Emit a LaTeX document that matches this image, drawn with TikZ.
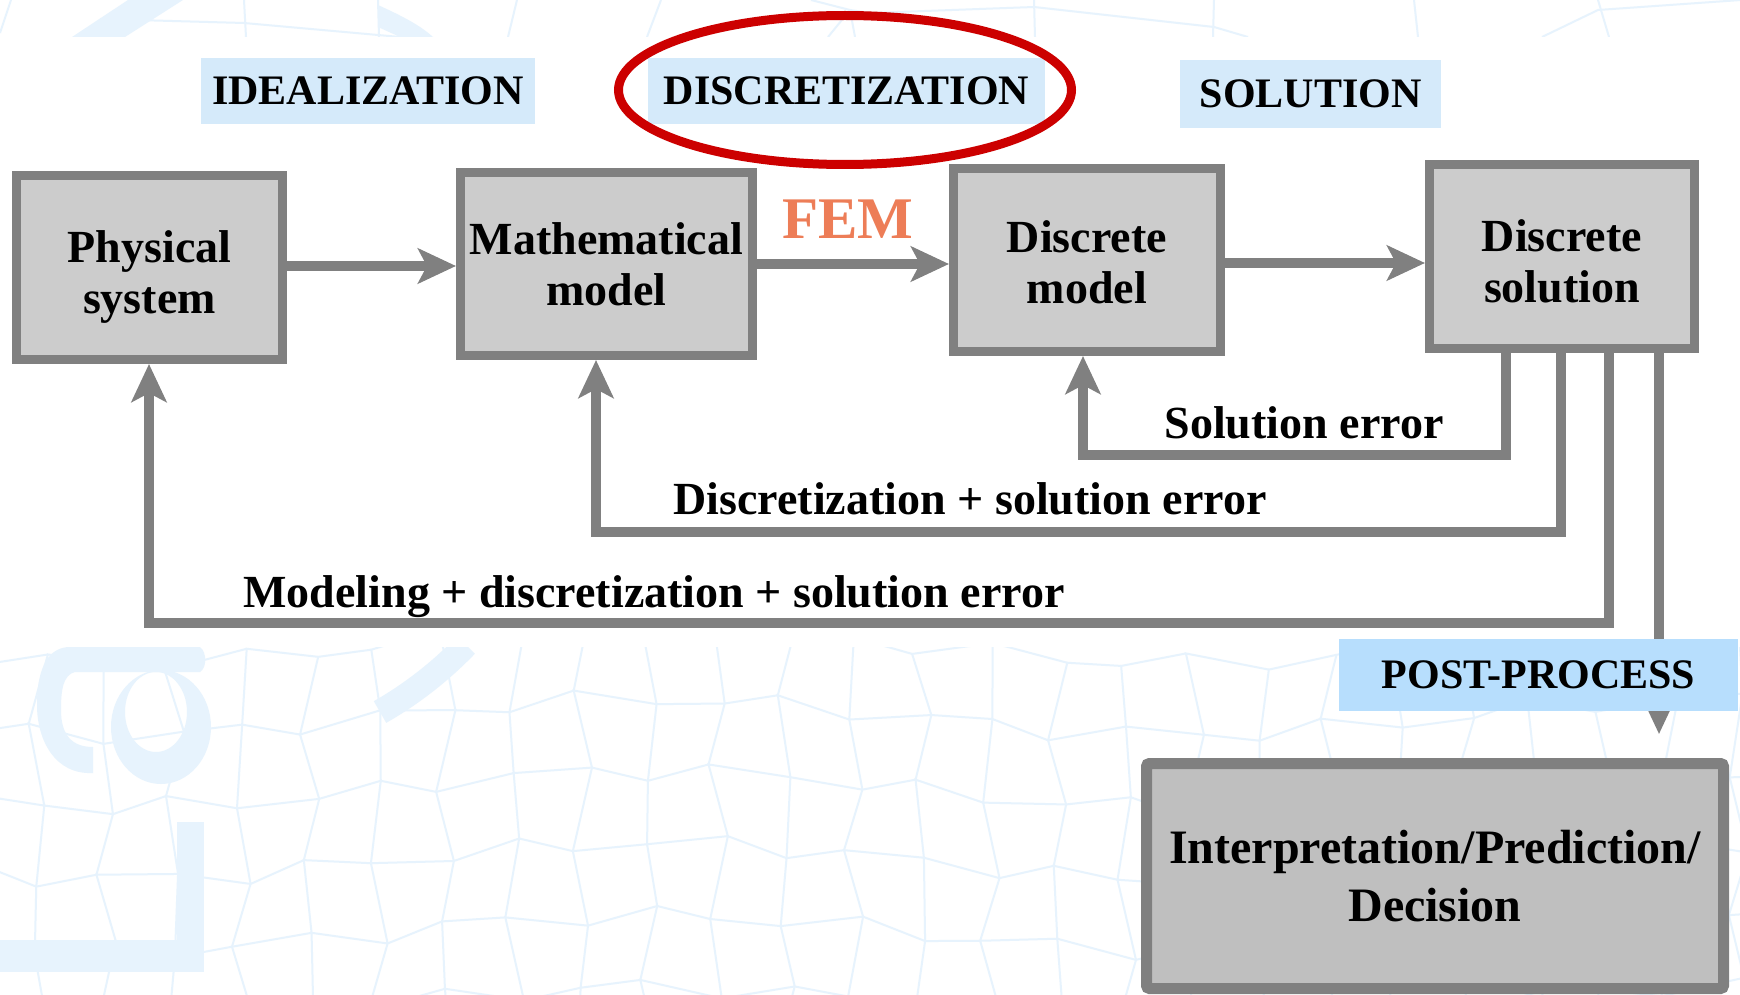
\documentclass[tikz,border=0pt]{standalone}
\usepackage{fontspec}
\setmainfont{Liberation Serif}
\usetikzlibrary{arrows.meta}
\definecolor{edge}{HTML}{808080}
\definecolor{boxfill}{HTML}{CCCCCC}
\definecolor{interpfill}{HTML}{BFBFBF}
\definecolor{tagblue}{RGB}{213,234,250}
\definecolor{postblue}{RGB}{183,222,253}
\definecolor{ringred}{RGB}{204,0,0}
\definecolor{femcol}{RGB}{237,125,87}
\definecolor{meshcol}{RGB}{231,243,253}
\tikzset{
  box/.style={draw=edge, fill=boxfill, line width=9pt, inner sep=0pt, align=center,
    font=\fontsize{46}{51}\selectfont\bfseries, text depth=0pt},
  tag/.style={fill=tagblue, inner sep=0pt, minimum height=66pt,
    font=\fontsize{42}{42}\selectfont\bfseries},
  arr/.style={draw=edge, line width=10pt, -{Stealth[length=38pt,width=35pt,inset=9pt]}},
  lab/.style={font=\fontsize{46}{46}\selectfont\bfseries, inner sep=0pt, anchor=base},
  mesh/.style={draw=meshcol, line width=2pt},
  wm/.style={fill=meshcol}
}
\begin{document}
\begin{tikzpicture}[x=1pt,y=-1pt]
\useasboundingbox (0,0) rectangle (1740,995);
\fill[white] (0,0) rectangle (1740,995);
% background: top band
\begin{scope}
\clip (0,0) rectangle (1740,37);
\fill[wm] (72,37) -- (125,37) -- (183,0) -- (128,0) -- cycle;
\fill[wm] (378,5) .. controls (400,15) and (420,25) .. (433,37) -- (400,37) -- (378,27) -- cycle;
\draw[mesh] (0,33) -- (11,0);
\draw[mesh] (100,19) -- (244,23) -- (378,35) -- (400,37);
\draw[mesh] (244,0) -- (246,37);
\draw[mesh] (378,0) -- (379,37);
\draw[mesh] (517,0) -- (508,37);
\draw[mesh] (661,0) -- (647,37);
\draw[mesh] (811,0) -- (850,10) -- (828,37);
\draw[mesh] (850,10) -- (855,37);
\draw[mesh] (850,10) -- (870,13) -- (1034,7) -- (1214,27) -- (1248,37);
\draw[mesh] (1034,0) -- (1035,37);
\draw[mesh] (1214,0) -- (1213,37);
\draw[mesh] (1414,0) -- (1418,37);
\draw[mesh] (1598,0) -- (1609,37);
\draw[mesh] (1542,37) -- (1598,10) -- (1741,0);
\end{scope}
% background: bottom band
\begin{scope}
\clip (0,647) rectangle (1740,995);
\fill[wm] (93,747) -- (93,773) .. controls (55,775) and (37,740) .. (37,705)
  .. controls (37,665) and (50,647) .. (70,647) -- (200,647)
  .. controls (207,652) and (207,668) .. (200,672) -- (75,672)
  .. controls (63,675) and (61,690) .. (61,710)
  .. controls (61,735) and (72,747) .. (93,747) -- cycle;
\fill[wm, even odd rule] (161,727) ellipse [x radius=50, y radius=57]
  (156,712) ellipse [x radius=31, y radius=40];
\fill[wm] (177,822) rectangle (204,972);
\fill[wm] (0,940) rectangle (204,972);
\draw[meshcol, line width=25pt] (380,712) .. controls (410,695) and (440,672) .. (466,645);
\foreach \i in {0,...,26}{\foreach \j in {0,...,5}{
  \pgfmathsetmacro\ax{-30+68*\i+10*sin(97*\i+151*\j)}
  \pgfmathsetmacro\ay{645+72*\j+10*cos(131*\i+71*\j)+18*sin(23*\i+40)}
  \pgfmathsetmacro\bx{-30+68*(\i+1)+10*sin(97*(\i+1)+151*\j)}
  \pgfmathsetmacro\by{645+72*\j+10*cos(131*(\i+1)+71*\j)+18*sin(23*(\i+1)+40)}
  \pgfmathsetmacro\cx{-30+68*\i+10*sin(97*\i+151*(\j+1))}
  \pgfmathsetmacro\cy{645+72*(\j+1)+10*cos(131*\i+71*(\j+1))+18*sin(23*\i+40)}
  \draw[mesh] (\bx,\by) -- (\ax,\ay) -- (\cx,\cy);
}}
\end{scope}
% main boxes
\node[box, text height=91pt, minimum width=266pt, minimum height=184pt] (phys) at (149.5,267.5) {Physical\\system};
\node[box, minimum width=292pt, minimum height=183pt] (math) at (606.5,264) {Mathematical\\model};
\node[box, text height=87pt, minimum width=267pt, minimum height=183pt] (dmod) at (1087,260) {Discrete\\model};
\node[box, text height=91pt, minimum width=265pt, minimum height=184pt] (dsol) at (1562,256.5) {Discrete\\solution};
\node[box, line width=11pt, fill=interpfill, rounded corners=3pt, minimum width=577pt, minimum height=225pt,
  font=\fontsize{48}{58}\selectfont\bfseries] (interp) at (1435,876) {Interpretation/Prediction/\\Decision};
% stage tags
\node[tag, minimum width=334pt] (ideal) at (368,91) {IDEALIZATION};
\node[tag, minimum width=397pt] (discr) at (846.5,91) {DISCRETIZATION};
\node[tag, minimum width=261pt, minimum height=68pt] (soln) at (1310.5,94) {SOLUTION};
\draw[ringred, line width=9pt] (845,90) ellipse [x radius=226.5, y radius=74.5];
\node[font=\fontsize{59}{59}\selectfont\bfseries, text=femcol, anchor=base, inner sep=0pt] (fem) at (848,239) {FEM};
% forward arrows
\coordinate (a1) at (0,266);
\coordinate (a2) at (0,264);
\coordinate (a3) at (0,263);
\draw[arr] (phys.east |- a1) -- (math.west |- a1);
\draw[arr] (math.east |- a2) -- (dmod.west |- a2);
\draw[arr] (dmod.east |- a3) -- (dsol.west |- a3);
% feedback loops
\coordinate (s1) at (1506,455); \coordinate (s2) at (1083,455);
\coordinate (d1) at (1561,532); \coordinate (d2) at (596,532);
\coordinate (m1) at (1609,623); \coordinate (m2) at (149,623);
\coordinate (pp) at (1659,734);
\draw[arr] (dsol.south -| s1) -- (s1) -- (s2) -- (dmod.south -| s2);
\draw[arr] (dsol.south -| d1) -- (d1) -- (d2) -- (math.south -| d2);
\draw[arr] (dsol.south -| m1) -- (m1) -- (m2) -- (phys.south -| m2);
\draw[arr] (dsol.south -| pp) -- (pp);
\node[fill=postblue, minimum width=399pt, minimum height=72pt, inner sep=0pt,
  font=\fontsize{42}{42}\selectfont\bfseries] (post) at (1538.5,675) {POST-PROCESS};
% loop labels
\node[lab] (lse) at (1304,438) {Solution error};
\node[lab] (ldse) at (970,514) {Discretization + solution error};
\node[lab] (lmdse) at (654,607) {Modeling + discretization + solution error};
\end{tikzpicture}
\end{document}
